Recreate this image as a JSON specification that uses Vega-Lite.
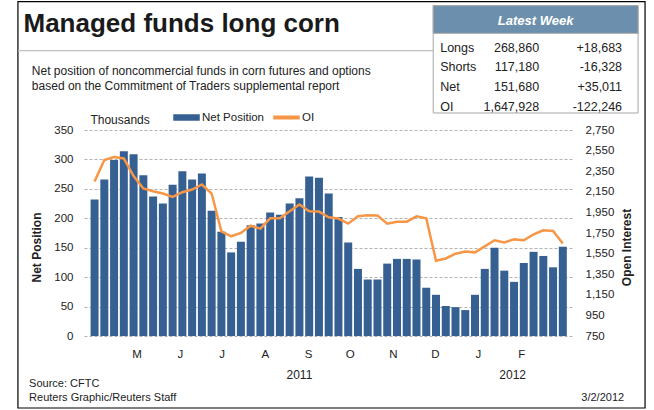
{
  "$schema": "https://vega.github.io/schema/vega-lite/v6.json",
  "width": 488,
  "height": 206,
  "autosize": "none",
  "padding": {"left": 84, "top": 130, "right": 82, "bottom": 74},
  "background": "white",
  "config": {
    "view": {"stroke": null},
    "font": "Liberation Sans",
    "axis": {"labelFont": "Liberation Sans", "titleFont": "Liberation Sans", "labelColor": "#222222", "titleColor": "#222222"},
    "legend": {"labelFont": "Liberation Sans", "labelColor": "#222222"}
  },
  "datasets": {
    "weekly": [
      {"date": "2011-03-29", "net": 232, "oi": 2250},
      {"date": "2011-04-05", "net": 266, "oi": 2458},
      {"date": "2011-04-12", "net": 299, "oi": 2487},
      {"date": "2011-04-19", "net": 314, "oi": 2474},
      {"date": "2011-04-26", "net": 309, "oi": 2302},
      {"date": "2011-05-03", "net": 273, "oi": 2182},
      {"date": "2011-05-10", "net": 237, "oi": 2156},
      {"date": "2011-05-17", "net": 225, "oi": 2133},
      {"date": "2011-05-24", "net": 257, "oi": 2101},
      {"date": "2011-05-31", "net": 280, "oi": 2146},
      {"date": "2011-06-07", "net": 266, "oi": 2172},
      {"date": "2011-06-14", "net": 276, "oi": 2221},
      {"date": "2011-06-21", "net": 213, "oi": 2133},
      {"date": "2011-06-28", "net": 177, "oi": 1766},
      {"date": "2011-07-05", "net": 142, "oi": 1718},
      {"date": "2011-07-12", "net": 160, "oi": 1750},
      {"date": "2011-07-19", "net": 188, "oi": 1821},
      {"date": "2011-07-26", "net": 191, "oi": 1792},
      {"date": "2011-08-02", "net": 210, "oi": 1893},
      {"date": "2011-08-09", "net": 206, "oi": 1893},
      {"date": "2011-08-16", "net": 225, "oi": 1961},
      {"date": "2011-08-23", "net": 234, "oi": 2026},
      {"date": "2011-08-30", "net": 271, "oi": 1960},
      {"date": "2011-09-06", "net": 269, "oi": 1958},
      {"date": "2011-09-13", "net": 242, "oi": 1903},
      {"date": "2011-09-20", "net": 202, "oi": 1890},
      {"date": "2011-09-27", "net": 159, "oi": 1841},
      {"date": "2011-10-04", "net": 114, "oi": 1912},
      {"date": "2011-10-11", "net": 96, "oi": 1922},
      {"date": "2011-10-18", "net": 96, "oi": 1919},
      {"date": "2011-10-25", "net": 123, "oi": 1841},
      {"date": "2011-11-01", "net": 131, "oi": 1860},
      {"date": "2011-11-08", "net": 131, "oi": 1860},
      {"date": "2011-11-15", "net": 130, "oi": 1912},
      {"date": "2011-11-22", "net": 82, "oi": 1893},
      {"date": "2011-11-29", "net": 70, "oi": 1481},
      {"date": "2011-12-06", "net": 51, "oi": 1503},
      {"date": "2011-12-13", "net": 49, "oi": 1549},
      {"date": "2011-12-20", "net": 44, "oi": 1571},
      {"date": "2011-12-27", "net": 70, "oi": 1562},
      {"date": "2012-01-03", "net": 114, "oi": 1620},
      {"date": "2012-01-10", "net": 150, "oi": 1679},
      {"date": "2012-01-17", "net": 111, "oi": 1659},
      {"date": "2012-01-24", "net": 92, "oi": 1688},
      {"date": "2012-01-31", "net": 124, "oi": 1679},
      {"date": "2012-02-07", "net": 143, "oi": 1737},
      {"date": "2012-02-14", "net": 136, "oi": 1776},
      {"date": "2012-02-21", "net": 116.7, "oi": 1770},
      {"date": "2012-02-28", "net": 151.7, "oi": 1648}
    ],
    "table": [
      {"item": "Longs", "latest": "268,860", "change": "+18,683"},
      {"item": "Shorts", "latest": "117,180", "change": "-16,328"},
      {"item": "Net", "latest": "151,680", "change": "+35,011"},
      {"item": "OI", "latest": "1,647,928", "change": "-122,246"}
    ]
  },
  "layer": [
    {
      "data": {"name": "weekly"},
      "mark": {"type": "bar", "size": 8},
      "encoding": {
        "x": {
          "field": "date", "type": "temporal",
          "scale": {"type": "utc", "domain": [{"year": 2011, "month": 3, "date": 25, "utc": true}, {"year": 2012, "month": 3, "date": 2, "utc": true}]},
          "axis": {
            "title": null,
            "values": [
              {"year": 2011, "month": 5, "date": 1, "utc": true},
              {"year": 2011, "month": 6, "date": 1, "utc": true},
              {"year": 2011, "month": 7, "date": 1, "utc": true},
              {"year": 2011, "month": 8, "date": 1, "utc": true},
              {"year": 2011, "month": 9, "date": 1, "utc": true},
              {"year": 2011, "month": 10, "date": 1, "utc": true},
              {"year": 2011, "month": 11, "date": 1, "utc": true},
              {"year": 2011, "month": 12, "date": 1, "utc": true},
              {"year": 2012, "month": 1, "date": 1, "utc": true},
              {"year": 2012, "month": 2, "date": 1, "utc": true}
            ],
            "labelExpr": "substring(utcFormat(datum.value, '%b'), 0, 1)",
            "domain": false, "ticks": false, "grid": false,
            "labelPadding": 12, "labelFontSize": 11.5, "labelOffset": -4,
            "labelFlush": false, "labelOverlap": false
          }
        },
        "y": {
          "field": "net", "type": "quantitative",
          "scale": {"domain": [0, 350], "nice": false, "zero": true},
          "axis": {
            "orient": "left",
            "values": [0, 50, 100, 150, 200, 250, 300, 350],
            "domain": false, "ticks": false,
            "grid": true, "gridDash": [3, 2], "gridColor": "#b3b3b3", "gridWidth": 1,
            "labelPadding": 11, "labelFontSize": 11.5, "labelOverlap": false,
            "title": "Net Position", "titleFontSize": 12, "titleFontWeight": "bold",
            "titleAngle": 270, "titleX": -48, "titleY": 117, "titleBaseline": "middle", "titleAlign": "center"
          }
        },
        "color": {
          "datum": "Net Position",
          "scale": {"domain": ["Net Position", "OI"], "range": ["#376092", "#f79646"]},
          "legend": {
            "orient": "none", "legendX": 89, "legendY": -26, "direction": "horizontal",
            "title": null, "padding": 0,
            "symbolSize": 625, "symbolType": "M-1,-0.2H1V0.2H-1Z",
            "labelFontSize": 11.5, "labelOffset": 2, "columnPadding": 6,
            "encode": {
              "symbols": {
                "update": {
                  "shape": {"signal": "datum.value === 'OI' ? 'M-1,-0.1H1V0.1H-1Z' : 'M-1,-0.2H1V0.2H-1Z'"},
                  "fill": {"scale": "color", "field": "value"},
                  "stroke": {"value": "transparent"},
                  "opacity": {"value": 1}
                }
              }
            }
          }
        }
      }
    },
    {
      "data": {"values": [{}]},
      "layer": [
        {
          "mark": {"type": "rect", "fill": "transparent", "stroke": "#000000", "strokeWidth": 1.2},
          "encoding": {
            "x": {"datum": {"year": 2011, "month": 2, "date": 2, "utc": true}, "type": "temporal"},
            "x2": {"datum": {"year": 2012, "month": 4, "date": 27, "utc": true}},
            "y": {"datum": 568, "type": "quantitative", "scale": {"domain": [0, 350], "nice": false, "zero": false}, "axis": null},
            "y2": {"datum": -122.3}
          }
        },
        {
          "mark": {"type": "rule", "stroke": "#c0c0c0", "strokeWidth": 1.3},
          "encoding": {
            "x": {"datum": {"year": 2011, "month": 2, "date": 2, "utc": true}, "type": "temporal"},
            "x2": {"datum": {"year": 2011, "month": 11, "date": 27, "utc": true}},
            "y": {"datum": 484.7, "type": "quantitative", "axis": null}
          }
        },
        {
          "mark": {"type": "text", "text": "Managed funds long corn", "align": "left", "baseline": "alphabetic", "fontSize": 26, "fontWeight": "bold", "color": "#1a1a1a", "font": "Liberation Sans"},
          "encoding": {
            "x": {"datum": {"year": 2011, "month": 2, "date": 6, "utc": true}, "type": "temporal"},
            "y": {"datum": 517, "type": "quantitative", "axis": null}
          }
        },
        {
          "mark": {"type": "text", "text": ["Net position of noncommercial funds in corn futures and options", "based on the Commitment of Traders supplemental report"], "align": "left", "baseline": "alphabetic", "lineHeight": 15, "fontSize": 12, "color": "#222222", "font": "Liberation Sans"},
          "encoding": {
            "x": {"datum": {"year": 2011, "month": 2, "date": 12, "utc": true}, "type": "temporal"},
            "y": {"datum": 443.4, "type": "quantitative", "axis": null}
          }
        },
        {
          "mark": {"type": "text", "text": "Thousands", "align": "left", "baseline": "middle", "fontSize": 12, "color": "#222222", "font": "Liberation Sans"},
          "encoding": {
            "x": {"datum": {"year": 2011, "month": 3, "date": 26, "utc": true}, "type": "temporal"},
            "y": {"datum": 367, "type": "quantitative", "axis": null}
          }
        },
        {
          "mark": {"type": "rect", "fill": "#ffffff", "stroke": "#a6a6a6", "strokeWidth": 1},
          "encoding": {
            "x": {"datum": {"year": 2011, "month": 11, "date": 27, "utc": true}, "type": "temporal"},
            "x2": {"datum": {"year": 2012, "month": 4, "date": 22, "utc": true}},
            "y": {"datum": 561.2, "type": "quantitative", "axis": null},
            "y2": {"datum": 378.9}
          }
        },
        {
          "mark": {"type": "rect", "fill": "#6b8fad", "stroke": "#a6a6a6", "strokeWidth": 1},
          "encoding": {
            "x": {"datum": {"year": 2011, "month": 11, "date": 27, "utc": true}, "type": "temporal"},
            "x2": {"datum": {"year": 2012, "month": 4, "date": 22, "utc": true}},
            "y": {"datum": 561.2, "type": "quantitative", "axis": null},
            "y2": {"datum": 514.3}
          }
        },
        {
          "mark": {"type": "text", "text": "Latest Week", "align": "center", "baseline": "middle", "fontSize": 13, "fontWeight": "bold", "fontStyle": "italic", "color": "#ffffff", "font": "Liberation Sans"},
          "encoding": {
            "x": {"datum": {"year": 2012, "month": 2, "date": 8, "hours": 12, "utc": true}, "type": "temporal"},
            "y": {"datum": 535.7, "type": "quantitative", "axis": null}
          }
        },
        {
          "mark": {"type": "text", "text": "2011", "align": "center", "baseline": "middle", "fontSize": 12, "color": "#222222", "font": "Liberation Sans"},
          "encoding": {
            "x": {"datum": {"year": 2011, "month": 8, "date": 23, "utc": true}, "type": "temporal"},
            "y": {"datum": -66.3, "type": "quantitative", "axis": null}
          }
        },
        {
          "mark": {"type": "text", "text": "2012", "align": "center", "baseline": "middle", "fontSize": 12, "color": "#222222", "font": "Liberation Sans"},
          "encoding": {
            "x": {"datum": {"year": 2012, "month": 1, "date": 23, "utc": true}, "type": "temporal"},
            "y": {"datum": -66.3, "type": "quantitative", "axis": null}
          }
        },
        {
          "mark": {"type": "text", "text": ["Source: CFTC", "Reuters Graphic/Reuters Staff"], "align": "left", "baseline": "alphabetic", "lineHeight": 14, "fontSize": 11, "color": "#222222", "font": "Liberation Sans"},
          "encoding": {
            "x": {"datum": {"year": 2011, "month": 2, "date": 10, "utc": true}, "type": "temporal"},
            "y": {"datum": -87.3, "type": "quantitative", "axis": null}
          }
        },
        {
          "mark": {"type": "text", "text": "3/2/2012", "align": "right", "baseline": "middle", "fontSize": 11, "color": "#222222", "font": "Liberation Sans"},
          "encoding": {
            "x": {"datum": {"year": 2012, "month": 4, "date": 12, "utc": true}, "type": "temporal"},
            "y": {"datum": -104.5, "type": "quantitative", "axis": null}
          }
        }
      ]
    },
    {
      "data": {"name": "weekly"},
      "mark": {"type": "line", "strokeWidth": 2.5},
      "encoding": {
        "x": {"field": "date", "type": "temporal"},
        "y": {
          "field": "oi", "type": "quantitative",
          "scale": {"domain": [750, 2750], "nice": false, "zero": false},
          "axis": {
            "orient": "right",
            "values": [750, 950, 1150, 1350, 1550, 1750, 1950, 2150, 2350, 2550, 2750],
            "format": ",d",
            "domain": false, "ticks": false, "grid": false,
            "labelPadding": 13, "labelFontSize": 11.5, "labelOverlap": false,
            "title": "Open Interest", "titleFontSize": 12, "titleFontWeight": "bold",
            "titleAngle": 270, "titleX": 54, "titleY": 117, "titleBaseline": "middle", "titleAlign": "center"
          }
        },
        "color": {"datum": "OI"}
      }
    },
    {
      "data": {"name": "table"},
      "layer": [
        {
          "mark": {"type": "text", "align": "left", "baseline": "middle", "fontSize": 12.5, "color": "#222222", "font": "Liberation Sans"},
          "encoding": {
            "x": {"datum": {"year": 2011, "month": 12, "date": 2, "utc": true}, "type": "temporal"},
            "y": {"field": "item", "type": "ordinal", "scale": {"type": "point", "domain": ["Longs", "Shorts", "Net", "OI"], "range": [-82.3, -23.3], "padding": 0}, "axis": null},
            "text": {"field": "item"}
          }
        },
        {
          "mark": {"type": "text", "align": "right", "baseline": "middle", "fontSize": 12.5, "color": "#222222", "font": "Liberation Sans"},
          "encoding": {
            "x": {"datum": {"year": 2012, "month": 2, "date": 11, "utc": true}, "type": "temporal"},
            "y": {"field": "item", "type": "ordinal", "axis": null},
            "text": {"field": "latest"}
          }
        },
        {
          "mark": {"type": "text", "align": "right", "baseline": "middle", "fontSize": 12.5, "color": "#222222", "font": "Liberation Sans"},
          "encoding": {
            "x": {"datum": {"year": 2012, "month": 4, "date": 10, "hours": 12, "utc": true}, "type": "temporal"},
            "y": {"field": "item", "type": "ordinal", "axis": null},
            "text": {"field": "change"}
          }
        }
      ]
    }
  ],
  "resolve": {"scale": {"y": "independent"}, "axis": {"y": "independent"}}
}
